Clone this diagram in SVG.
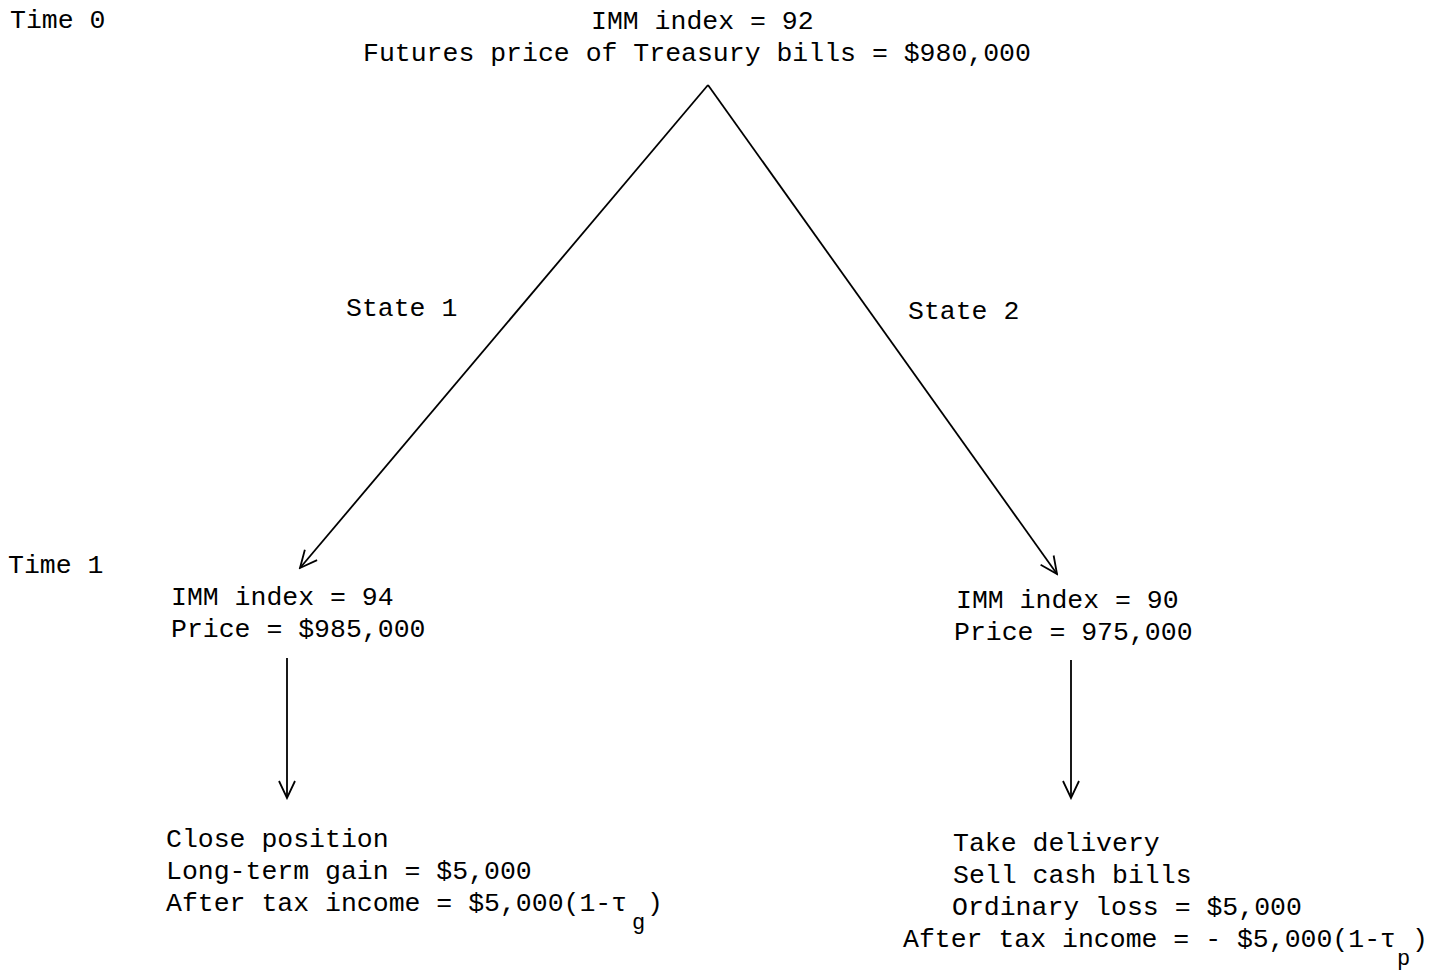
<svg xmlns="http://www.w3.org/2000/svg" width="1448" height="972" viewBox="0 0 1448 972">
<style>
text{font-family:"Liberation Mono","DejaVu Sans Mono",monospace;font-size:26.5px;fill:#000}
.sub{font-size:22px}
.ln{stroke:#000;stroke-width:1.8;fill:none}
</style>
<defs>
<marker id="ah" viewBox="-20 -10 22 20" refX="0" refY="0" markerWidth="22" markerHeight="20" markerUnits="userSpaceOnUse" orient="auto">
<path d="M-17,-8 L0,0 L-17,8" fill="none" stroke="#000" stroke-width="1.8"/>
</marker>
</defs>
<rect width="1448" height="972" fill="#fff"/>
<g id="labels">
<text x="10" y="28">Time 0</text>
<text x="8" y="573">Time 1</text>
<text x="346" y="316">State 1</text>
<text x="908" y="319">State 2</text>
</g>
<g id="node-root">
<text x="591" y="29">IMM index = 92</text>
<text x="363" y="61">Futures price of Treasury bills = $980,000</text>
</g>
<g id="node-state1">
<text x="171" y="605">IMM index = 94</text>
<text x="171" y="637">Price = $985,000</text>
</g>
<g id="node-state2">
<text x="956" y="608">IMM index = 90</text>
<text x="954" y="640">Price = 975,000</text>
</g>
<g id="node-outcome1">
<text x="166" y="847">Close position</text>
<text x="166" y="879">Long-term gain = $5,000</text>
<text x="166" y="911">After tax income = $5,000(1-τ</text>
<text class="sub" x="632" y="929">g</text>
<text x="647" y="911">)</text>
</g>
<g id="node-outcome2">
<text x="953" y="851">Take delivery</text>
<text x="953" y="883">Sell cash bills</text>
<text x="952" y="915">Ordinary loss = $5,000</text>
<text x="903" y="947">After tax income = - $5,000(1-τ</text>
<text class="sub" x="1397" y="965">p</text>
<text x="1412" y="947">)</text>
</g>
<g id="connectors">
<line class="ln" x1="708" y1="85" x2="300" y2="568" marker-end="url(#ah)"/>
<line class="ln" x1="708" y1="85" x2="1057" y2="574" marker-end="url(#ah)"/>
<line class="ln" x1="287" y1="658" x2="287" y2="798" marker-end="url(#ah)"/>
<line class="ln" x1="1071" y1="660" x2="1071" y2="798" marker-end="url(#ah)"/>
</g>
</svg>
